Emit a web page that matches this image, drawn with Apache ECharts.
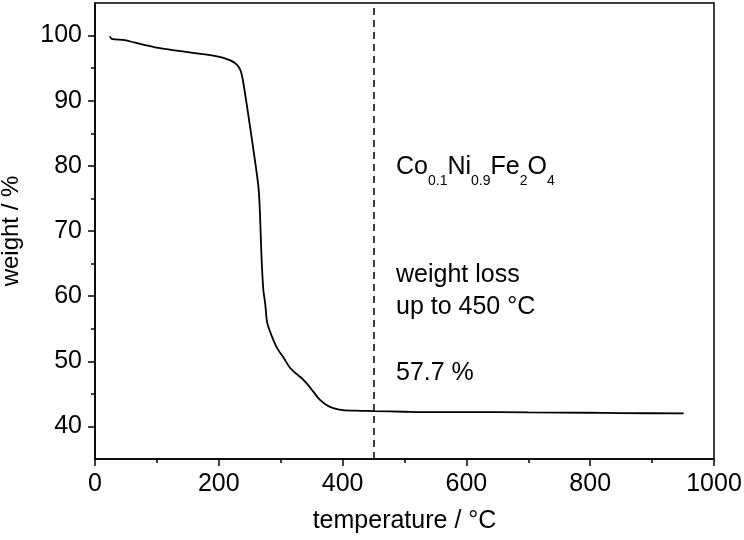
<!DOCTYPE html>
<html>
<head>
<meta charset="utf-8">
<script src="https://cdn.jsdelivr.net/npm/echarts@6/dist/echarts.min.js"></script>
<style>
  html, body { margin: 0; padding: 0; background: #fff; }
  #chart { width: 744px; height: 540px; }
</style>
</head>
<body>
<div id="chart"></div>
<script>
// TGA curve
var temperature = [24, 27, 48, 65, 97, 135, 178, 210, 226, 234, 238, 245, 256, 264, 266.5, 269, 272, 275, 277.5, 280, 288, 295, 305, 315, 325, 334, 343, 353, 363, 374, 385, 400, 430, 450, 500, 530, 600, 700, 795, 850, 951];
var weight = [99.9, 99.5, 99.3, 98.9, 98.2, 97.65, 97.1, 96.5, 95.8, 94.9, 93.6, 89.5, 82.4, 76.8, 72.7, 66.0, 60.9, 58.8, 56.3, 55.3, 53.3, 51.9, 50.5, 49.0, 48.1, 47.4, 46.5, 45.3, 44.1, 43.3, 42.8, 42.5, 42.4, 42.35, 42.25, 42.2, 42.2, 42.15, 42.1, 42.05, 42.0];
var yMajor = [40, 50, 60, 70, 80, 90, 100];
var yMinor = [45, 55, 65, 75, 85, 95];
var cutoffTemp = 450;
var lossText = '57.7 %';

var FONT = '"Liberation Sans", Arial, sans-serif';
var chart = echarts.init(document.getElementById('chart'));

var pts = temperature.map(function (t, i) { return [t, weight[i]]; });

chart.setOption({
    animation: false,
    backgroundColor: '#fff',
    grid: {
        left: 95, right: 30, top: 3, bottom: 81,
        outerBoundsMode: 'none', containLabel: false,
        show: true, borderColor: '#000', borderWidth: 1.5, backgroundColor: 'transparent'
    },
    xAxis: {
        type: 'value', min: 0, max: 1000, interval: 200,
        name: 'temperature / °C', nameLocation: 'middle', nameGap: 50,
        nameTextStyle: { color: '#000', fontSize: 25, fontFamily: FONT },
        axisLine: { show: true, onZero: false, lineStyle: { color: '#000', width: 1.5 } },
        axisTick: { show: true, length: 7, lineStyle: { color: '#000', width: 1.5 } },
        minorTick: { show: true, splitNumber: 2, length: 4, lineStyle: { color: '#000', width: 1.5 } },
        axisLabel: { color: '#000', fontSize: 25, fontFamily: FONT, margin: 13, formatter: function (v) { return String(v); } },
        splitLine: { show: false }
    },
    yAxis: [{
        type: 'value', min: 35, max: 105,
        name: 'weight / %', nameLocation: 'middle', nameGap: 72, nameRotate: 90,
        nameTextStyle: { color: '#000', fontSize: 24, fontFamily: FONT },
        axisLine: { show: true, onZero: false, lineStyle: { color: '#000', width: 1.5 } },
        axisTick: { show: true, length: 7, customValues: yMajor, lineStyle: { color: '#000', width: 1.5 } },
        axisLabel: { color: '#000', fontSize: 25, fontFamily: FONT, margin: 13, customValues: yMajor },
        splitLine: { show: false }
    }, {
        type: 'value', min: 35, max: 105, position: 'left',
        axisLine: { show: false },
        axisTick: { show: true, length: 4, customValues: yMinor, lineStyle: { color: '#000', width: 1.5 } },
        axisLabel: { show: false },
        splitLine: { show: false }
    }],
    series: [{
        type: 'line',
        data: pts,
        showSymbol: false,
        smooth: 0.3,
        lineStyle: { color: '#000', width: 1.8 },
        markLine: {
            silent: true,
            symbol: 'none',
            label: { show: false },
            lineStyle: { color: '#000', width: 1.5, type: [7, 5] },
            data: [{ xAxis: cutoffTemp }]
        }
    }],
    graphic: [{
        type: 'text', left: 396, top: 155,
        style: {
            text: '{m|Co}{s|0.1}{m|Ni}{s|0.9}{m|Fe}{s|2}{m|O}{s|4}',
            fill: '#000',
            rich: {
                m: { fontSize: 25, fontFamily: FONT, lineHeight: 26, verticalAlign: 'top' },
                s: { fontSize: 14, fontFamily: FONT, lineHeight: 14, verticalAlign: 'top', padding: [19, 0, 0, 0] }
            }
        }
    }, {
        type: 'text', left: 396, top: 259,
        style: { text: 'weight loss\nup to 450 °C', fill: '#000', fontSize: 25, fontFamily: FONT, lineHeight: 32 }
    }, {
        type: 'text', left: 396, top: 357,
        style: { text: lossText, fill: '#000', fontSize: 25, fontFamily: FONT, lineHeight: 32 }
    }]
});
</script>
</body>
</html>
